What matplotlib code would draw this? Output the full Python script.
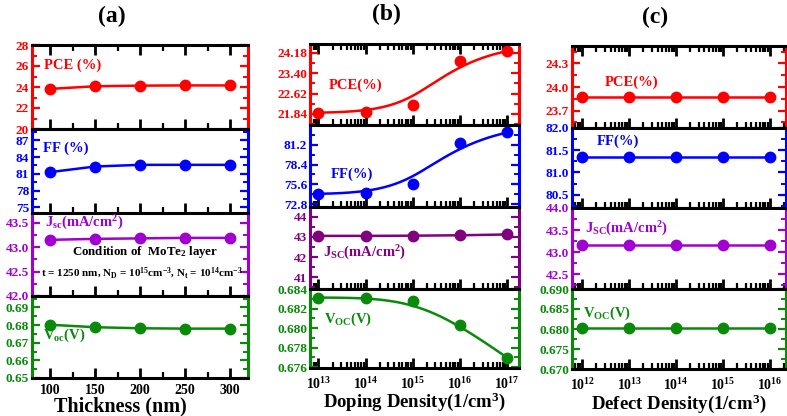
import numpy as np
import matplotlib
matplotlib.use("Agg")
import matplotlib.pyplot as plt
from matplotlib.ticker import FixedLocator, FormatStrFormatter, LogLocator, NullFormatter, MultipleLocator

plt.rcParams['font.family'] = ['Liberation Serif', 'DejaVu Serif']
plt.rcParams['font.weight'] = 'bold'
plt.rcParams['mathtext.fontset'] = 'custom'
plt.rcParams['mathtext.rm'] = 'Liberation Serif:bold'
plt.rcParams['mathtext.it'] = 'Liberation Serif:bold'
plt.rcParams['mathtext.bf'] = 'Liberation Serif:bold'
plt.rcParams['mathtext.default'] = 'rm'

# ---------------- data ----------------
thickness = [100, 150, 200, 250, 300]
a_pce = [23.82, 24.07, 24.13, 24.15, 24.15]
a_ff = [81.3, 82.3, 82.6, 82.6, 82.6]
a_jsc = [43.15, 43.17, 43.18, 43.19, 43.19]
a_voc = [0.6802, 0.6788, 0.6782, 0.6780, 0.6780]

doping = [1e13, 1e14, 1e15, 1e16, 1e17]
b_pce = [21.89, 21.92, 22.18, 23.87, 24.24]
b_ff = [74.27, 74.36, 75.65, 81.43, 82.94]
b_jsc = [43.05, 43.05, 43.06, 43.08, 43.12]
b_voc = [0.68312, 0.68312, 0.68281, 0.68034, 0.67695]

defect = [1e12, 1e13, 1e14, 1e15, 1e16]
c_pce = [23.87, 23.87, 23.87, 23.87, 23.87]
c_ff = [81.34, 81.34, 81.34, 81.34, 81.34]
c_jsc = [43.16, 43.16, 43.16, 43.16, 43.16]
c_voc = [0.6802, 0.6802, 0.6802, 0.6802, 0.6802]

a_ticks = {'pce': [20, 22, 24, 26, 28], 'ff': [75, 78, 81, 84, 87],
           'jsc': [42.0, 42.5, 43.0, 43.5], 'voc': [0.65, 0.66, 0.67, 0.68, 0.69]}
b_ticks = {'pce': [21.84, 22.62, 23.40, 24.18], 'ff': [72.8, 75.6, 78.4, 81.2],
           'jsc': [41, 42, 43, 44], 'voc': [0.676, 0.678, 0.680, 0.682, 0.684]}
c_ticks = {'pce': [23.7, 24.0, 24.3], 'ff': [80.5, 81.0, 81.5, 82.0],
           'jsc': [42.5, 43.0, 43.5, 44.0], 'voc': [0.670, 0.675, 0.680, 0.685, 0.690]}

RED = '#ff0000'
BLUE = '#0000ff'
PURPLE_A = '#a000d0'
PURPLE_B = '#800080'
GREEN = '#0a8a0a'

W, H = 787, 416
fig = plt.figure(figsize=(W / 100, H / 100), dpi=100)


def make_ax(x0, x1, y0, y1):
    return fig.add_axes([x0 / W, 1 - y1 / H, (x1 - x0) / W, (y1 - y0) / H])


def style(ax, color, ticks, fmt, ylim, minor_step, top=False, bottom_labels=False, xpad=6):
    ax.set_ylim(*ylim)
    ax.yaxis.set_major_locator(FixedLocator(ticks))
    ax.yaxis.set_minor_locator(MultipleLocator(minor_step))
    ax.yaxis.set_major_formatter(FormatStrFormatter(fmt))
    for s in ['left', 'right']:
        ax.spines[s].set_color(color)
        ax.spines[s].set_linewidth(2.2)
    for s in ['top', 'bottom']:
        ax.spines[s].set_color('black')
        ax.spines[s].set_linewidth(2.2)
    ax.tick_params(axis='y', which='both', direction='in', left=True, right=True,
                   colors=color, labelcolor=color, labelsize=9.5, pad=2)
    ax.tick_params(axis='y', which='major', length=6, width=1.6)
    ax.tick_params(axis='y', which='minor', length=3.5, width=1.4)
    ax.tick_params(axis='x', which='both', direction='in', top=top, bottom=True,
                   color='black', labelbottom=bottom_labels, labelsize=10, pad=xpad)
    ax.tick_params(axis='x', which='major', length=7, width=2)
    ax.tick_params(axis='x', which='minor', length=4, width=1.6)


def bspline_curve(xs, ys, n=200, k=3):
    """Clamped cubic B-spline using the data points as control points (log-x)."""
    P = np.column_stack([np.log10(np.asarray(xs, float)), np.asarray(ys, float)])
    m = len(P)
    knots = np.concatenate([np.zeros(k), np.linspace(0, 1, m - k + 1), np.ones(k)])

    def N(i, p, t):
        if p == 0:
            return 1.0 if (knots[i] <= t < knots[i + 1]) else 0.0
        a = 0.0
        d1 = knots[i + p] - knots[i]
        if d1 > 0:
            a += (t - knots[i]) / d1 * N(i, p - 1, t)
        d2 = knots[i + p + 1] - knots[i + 1]
        if d2 > 0:
            a += (knots[i + p + 1] - t) / d2 * N(i + 1, p - 1, t)
        return a

    ts = np.linspace(0, 1 - 1e-9, n)
    pts = np.array([sum(N(i, k, t) * P[i] for i in range(m)) for t in ts])
    return 10 ** pts[:, 0], pts[:, 1]


LW = 1.8
MS = 7.5

# ---------------- panel (a) ----------------
ax_a = [make_ax(32, 248, 45, 129), make_ax(32, 248, 129, 213),
        make_ax(32, 248, 213, 296), make_ax(32, 248, 296, 378)]
series_a = [(a_pce, RED, 'pce', '%d', (20, 28), 1),
            (a_ff, BLUE, 'ff', '%d', (74, 89), 1.5),
            (a_jsc, PURPLE_A, 'jsc', '%.1f', (42.0, 43.7), 0.25),
            (a_voc, GREEN, 'voc', '%.2f', (0.65, 0.6965), 0.005)]
for i, (ax, (ys, col, key, fmt, yl, mn)) in enumerate(zip(ax_a, series_a)):
    ax.plot(thickness, ys, '-o', color=col, lw=LW, ms=MS)
    ax.set_xlim(80, 320)
    ax.xaxis.set_major_locator(FixedLocator(thickness))
    ax.xaxis.set_minor_locator(MultipleLocator(25))
    style(ax, col, a_ticks[key], fmt, yl, mn, top=(i == 0), bottom_labels=(i == 3), xpad=4)
ax_a[3].set_xlabel('Thickness (nm)', fontsize=14.5, fontweight='bold')
ax_a[3].xaxis.set_label_coords(0.41, -0.225)
ax_a[0].text(0.056, 0.76, 'PCE (%)', color=RED, transform=ax_a[0].transAxes,
             fontsize=10.5, va='center', ha='left')
ax_a[1].text(0.05, 0.77, 'FF (%)', color=BLUE, transform=ax_a[1].transAxes,
             fontsize=10.5, va='center', ha='left')
ax_a[2].text(0.06, 0.88, r'J$_{sc}$(mA/cm$^{2}$)', color=PURPLE_A, transform=ax_a[2].transAxes,
             fontsize=10.5, va='center', ha='left')
ax_a[2].text(0.523, 0.53, r'Condition of  MoTe$_{2}$ layer', color='black',
             transform=ax_a[2].transAxes, fontsize=9.3, va='center', ha='center')
ax_a[2].text(0.51, 0.28, r't = 1250 nm, N$_{D}$ = 10$^{15}$cm$^{-3}$, N$_{t}$ = 10$^{14}$cm$^{-3}$',
             color='black', transform=ax_a[2].transAxes, fontsize=8, va='center', ha='center')
ax_a[3].text(0.05, 0.52, r'V$_{oc}$(V)', color=GREEN, transform=ax_a[3].transAxes,
             fontsize=10.5, va='center', ha='left')

# ---------------- panel (b) ----------------
ax_b = [make_ax(310, 519, 44, 125), make_ax(310, 519, 125, 207),
        make_ax(310, 519, 207, 289), make_ax(310, 519, 289, 368)]
series_b = [(b_pce, RED, 'pce', '%.2f', (21.42, 24.51), 0.39, True),
            (b_ff, BLUE, 'ff', '%.1f', (72.4, 84.0), 1.4, True),
            (b_jsc, PURPLE_B, 'jsc', '%d', (40.42, 44.48), 0.5, False),
            (b_voc, GREEN, 'voc', '%.3f', (0.6759, 0.684), 0.001, True)]
for i, (ax, (ys, col, key, fmt, yl, mn, smooth)) in enumerate(zip(ax_b, series_b)):
    if smooth:
        fx, fy = bspline_curve(doping, ys)
        ax.plot(fx, fy, '-', color=col, lw=LW)
        ax.plot(doping, ys, 'o', color=col, ms=MS)
    else:
        ax.plot(doping, ys, '-o', color=col, lw=LW, ms=MS)
    ax.set_xscale('log')
    ax.set_xlim(10 ** 12.82, 10 ** 17.25)
    ax.xaxis.set_major_locator(LogLocator(base=10, numticks=20))
    ax.xaxis.set_minor_locator(LogLocator(base=10, subs=np.arange(2, 10), numticks=20))
    ax.xaxis.set_minor_formatter(NullFormatter())
    style(ax, col, b_ticks[key], fmt, yl, mn, top=(i == 0), bottom_labels=(i == 3))
ax_b[3].set_xlabel(r'Doping Density(1/cm$^{3}$)', fontsize=13.5, fontweight='bold')
ax_b[3].xaxis.set_label_coords(0.5, -0.29)
ax_b[0].text(0.09, 0.49, 'PCE(%)', color=RED, transform=ax_b[0].transAxes,
             fontsize=10.5, va='center', ha='left')
ax_b[1].text(0.10, 0.40, 'FF(%)', color=BLUE, transform=ax_b[1].transAxes,
             fontsize=10.5, va='center', ha='left')
ax_b[2].text(0.063, 0.44, r'J$_{SC}$(mA/cm$^{2}$)', color=PURPLE_B, transform=ax_b[2].transAxes,
             fontsize=10.5, va='center', ha='left')
ax_b[3].text(0.067, 0.61, r'V$_{OC}$(V)', color=GREEN, transform=ax_b[3].transAxes,
             fontsize=10.5, va='center', ha='left')

# ---------------- panel (c) ----------------
ax_c = [make_ax(572, 786, 46, 128), make_ax(572, 786, 128, 208),
        make_ax(572, 786, 208, 289), make_ax(572, 786, 289, 369)]
series_c = [(c_pce, RED, 'pce', '%.1f', (23.48, 24.52), 0.15),
            (c_ff, BLUE, 'ff', '%.1f', (80.2, 82.0), 0.25),
            (c_jsc, PURPLE_A, 'jsc', '%.1f', (42.16, 44.0), 0.25),
            (c_voc, GREEN, 'voc', '%.3f', (0.670, 0.690), 0.0025)]
for i, (ax, (ys, col, key, fmt, yl, mn)) in enumerate(zip(ax_c, series_c)):
    ax.plot(defect, ys, '-o', color=col, lw=LW, ms=MS)
    ax.set_xscale('log')
    ax.set_xlim(10 ** 11.78, 10 ** 16.34)
    ax.xaxis.set_major_locator(LogLocator(base=10, numticks=20))
    ax.xaxis.set_minor_locator(LogLocator(base=10, subs=np.arange(2, 10), numticks=20))
    ax.xaxis.set_minor_formatter(NullFormatter())
    style(ax, col, c_ticks[key], fmt, yl, mn, top=(i == 0), bottom_labels=(i == 3))
ax_c[3].set_xlabel(r'Defect Density(1/cm$^{3}$)', fontsize=13.5, fontweight='bold')
ax_c[3].xaxis.set_label_coords(0.5, -0.29)
ax_c[0].text(0.154, 0.56, 'PCE(%)', color=RED, transform=ax_c[0].transAxes,
             fontsize=10.5, va='center', ha='left')
ax_c[1].text(0.117, 0.84, 'FF(%)', color=BLUE, transform=ax_c[1].transAxes,
             fontsize=10.5, va='center', ha='left')
ax_c[2].text(0.06, 0.74, r'J$_{SC}$(mA/cm$^{2}$)', color=PURPLE_A, transform=ax_c[2].transAxes,
             fontsize=10.5, va='center', ha='left')
ax_c[3].text(0.05, 0.70, r'V$_{OC}$(V)', color=GREEN, transform=ax_c[3].transAxes,
             fontsize=10.5, va='center', ha='left')

# panel titles
for x, y, t in [(112, 16, '(a)'), (386, 14, '(b)'), (655, 17, '(c)')]:
    fig.text(x / W, 1 - y / H, t, fontsize=17, fontweight='bold', ha='center', va='center')

fig.savefig('out.png', dpi=100)
